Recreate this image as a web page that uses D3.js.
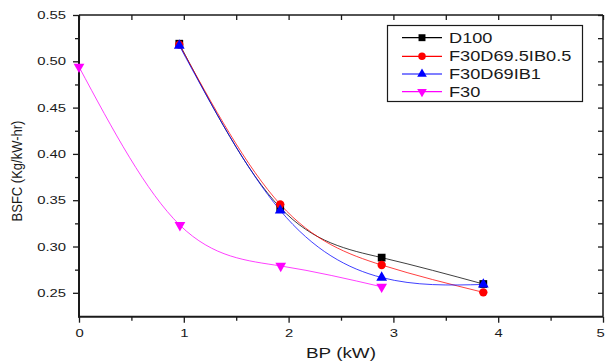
<!DOCTYPE html>
<html><head><meta charset="utf-8">
<script src="https://cdn.jsdelivr.net/npm/d3@7"></script>
<style>
html,body{margin:0;padding:0;background:#fff;}
svg{display:block;font-family:"Liberation Sans",Arial,sans-serif;}
</style></head>
<body>
<svg id="c" width="606" height="363"></svg>
<script>
const seriesNames = ["D100","F30D69.5IB0.5","F30D69IB1","F30"];
const colors = ["#000000","#ff0000","#0000ff","#ff00ff"];
const symbols = ["square","circle","triangle","triangleDown"];
const bpD100 = [0.957, 1.92, 2.888, 3.858];
const bsfcD100 = [0.519, 0.342, 0.288, 0.2595];
const bpF30D695 = [0.957, 1.92, 2.888, 3.858];
const bsfcF30D695 = [0.518, 0.3455, 0.280, 0.2505];
const bpF30D69 = [0.957, 1.92, 2.888, 3.858];
const bsfcF30D69 = [0.517, 0.339, 0.2665, 0.259];
const bpF30 = [0.0, 0.963, 1.925, 2.888];
const bsfcF30 = [0.494, 0.323, 0.279, 0.2565];
const xMajor = [0,1,2,3,4,5];
const xMinor = [0.5,1.5,2.5,3.5,4.5];
const yMajor = [0.25,0.30,0.35,0.40,0.45,0.50,0.55];
const yMinor = [0.275,0.325,0.375,0.425,0.475,0.525];
const xTitle = "BP (kW)";
const yTitle = "BSFC (Kg/kW-hr)";

const xs = [bpD100,bpF30D695,bpF30D69,bpF30];
const ys = [bsfcD100,bsfcF30D695,bsfcF30D69,bsfcF30];

const L=79, R=603, T=15, B=316.7;
const SX = 1.35; // horizontal text stretch
const svg = d3.select("#c");
const x = d3.scaleLinear().domain([0,5]).range([L,R]);
const y = d3.scaleLinear().domain([0.2242,0.55]).range([B,T]);
const axCol = "#1a1a1a";

function styleAxis(g){
  g.select(".domain").remove();
  g.selectAll("line").attr("stroke",axCol).attr("stroke-width",1.3);
  g.selectAll("text").attr("fill",axCol).attr("font-size",11).attr("font-family","Liberation Sans, Arial, sans-serif");
}
// left axis
const gl = svg.append("g").attr("transform",`translate(${L},0)`)
  .call(d3.axisLeft(y).tickValues(yMajor).tickSize(6).tickPadding(7).tickFormat(d3.format(".2f")));
styleAxis(gl);
gl.selectAll("text").each(function(){
  const t=d3.select(this); const xx=+t.attr("x");
  t.attr("x", xx/SX).attr("transform",`scale(${SX},1)`);
});
svg.append("g").attr("transform",`translate(${L},0)`)
  .call(d3.axisLeft(y).tickValues(yMinor).tickSize(4).tickFormat("")).call(styleAxis);
// bottom axis
const gb = svg.append("g").attr("transform",`translate(0,${B})`)
  .call(d3.axisBottom(x).tickValues(xMajor).tickSize(6).tickPadding(6).tickFormat(d3.format("d")));
styleAxis(gb);
gb.selectAll("text").attr("transform",d => d===5 ? `translate(-3,0) scale(${SX},1)` : `scale(${SX},1)`);
svg.append("g").attr("transform",`translate(0,${B})`)
  .call(d3.axisBottom(x).tickValues(xMinor).tickSize(4).tickFormat("")).call(styleAxis);
// top axis (inward)
svg.append("g").attr("transform",`translate(0,${T})`)
  .call(d3.axisBottom(x).tickValues(xMajor.concat(xMinor)).tickSize(5).tickFormat("")).call(styleAxis);
// right axis (inward)
svg.append("g").attr("transform",`translate(${R},0)`)
  .call(d3.axisLeft(y).tickValues(yMajor.concat(yMinor)).tickSize(5).tickFormat("")).call(styleAxis);
// frame
svg.append("line").attr("x1",L).attr("x2",L).attr("y1",T).attr("y2",B+0.7).attr("stroke",axCol).attr("stroke-width",2);
svg.append("line").attr("x1",L-1).attr("x2",R).attr("y1",B).attr("y2",B).attr("stroke",axCol).attr("stroke-width",2);
svg.append("line").attr("x1",L).attr("x2",R).attr("y1",T).attr("y2",T).attr("stroke",axCol).attr("stroke-width",1.5);
svg.append("line").attr("x1",R).attr("x2",R).attr("y1",T).attr("y2",B).attr("stroke",axCol).attr("stroke-width",1.5);

// titles
svg.append("text").attr("transform",`translate(${(L+R)/2},358) scale(1.35,1)`)
  .attr("text-anchor","middle").attr("font-size",14).attr("fill",axCol).text(xTitle);
svg.append("text").attr("transform",`translate(22,171) scale(1.15,1) rotate(-90)`)
  .attr("text-anchor","middle").attr("font-size",13).attr("fill",axCol).text(yTitle);

const symMap = {square:d3.symbolSquare, circle:d3.symbolCircle, triangle:d3.symbolTriangle};
function sym(name, size){
  if(name==="triangleDown") return {p:d3.symbol(d3.symbolTriangle,size)(), rot:180};
  return {p:d3.symbol(symMap[name],size)(), rot:0};
}
const symSizes = {square:60, circle:55, triangle:50, triangleDown:50};

const line = d3.line().x(d=>x(d[0])).y(d=>y(d[1])).curve(d3.curveNatural);
// draw lines
seriesNames.forEach((n,i)=>{
  const pts = xs[i].map((v,k)=>[v,ys[i][k]]);
  svg.append("path").attr("d",line(pts)).attr("fill","none")
    .attr("stroke",colors[i]).attr("stroke-width",1).attr("stroke-opacity",0.75);
});
// markers
seriesNames.forEach((n,i)=>{
  const s = sym(symbols[i], symSizes[symbols[i]]);
  xs[i].forEach((v,k)=>{
    svg.append("path").attr("d",s.p)
      .attr("transform",`translate(${x(v)},${y(ys[i][k])}) rotate(${s.rot})`)
      .attr("fill",colors[i]);
  });
});

// legend
const lg = svg.append("g");
lg.append("rect").attr("x",387.5).attr("y",25.5).attr("width",195).attr("height",76)
  .attr("fill","#fff").attr("stroke",axCol).attr("stroke-width",1.2);
const rowY = [37.7,56.3,74,91.7];
seriesNames.forEach((n,i)=>{
  lg.append("line").attr("x1",402).attr("x2",442).attr("y1",rowY[i]).attr("y2",rowY[i])
    .attr("stroke",colors[i]).attr("stroke-width",1.2);
  const s = sym(symbols[i], symSizes[symbols[i]]*0.8);
  lg.append("path").attr("d",s.p).attr("transform",`translate(422,${rowY[i]}) rotate(${s.rot})`).attr("fill",colors[i]);
  lg.append("text").attr("transform",`translate(449,${rowY[i]+5}) scale(1.3,1)`)
    .attr("font-size",14).attr("fill",axCol).text(n);
});
</script>
</body></html>
